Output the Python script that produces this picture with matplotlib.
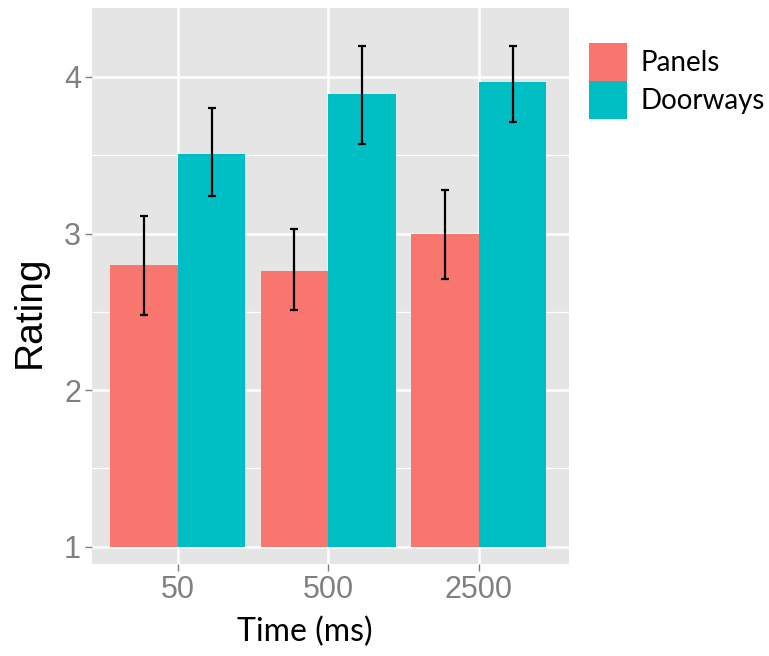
import numpy as np
import matplotlib.pyplot as plt

# Werte
times = ["50", "500", "2500"]
groups = ["Panels", "Doorways"]
panels = [2.80, 2.76, 3.00]
panels_lo = [2.48, 2.51, 2.71]
panels_hi = [3.11, 3.03, 3.28]
doorways = [3.51, 3.89, 3.97]
doorways_lo = [3.24, 3.57, 3.71]
doorways_hi = [3.80, 4.20, 4.20]

colors = ["#F8766D", "#00BFC4"]
base = 1.0

fig = plt.figure(figsize=(7.69, 6.56), dpi=100)
ax = fig.add_axes([92 / 769, 1 - 564 / 656, (569 - 92) / 769, (564 - 8) / 656])
ax.set_facecolor("#E5E5E5")
for s in ax.spines.values():
    s.set_visible(False)

x = np.arange(len(times))
w = 0.45
series = [(panels, panels_lo, panels_hi), (doorways, doorways_lo, doorways_hi)]
for i, (vals, lo, hi) in enumerate(series):
    xs = x + (i - 0.5) * w
    vals = np.array(vals)
    ax.bar(xs, vals - base, w, bottom=base, color=colors[i], label=groups[i],
           zorder=2, linewidth=0)
    yerr = [vals - np.array(lo), np.array(hi) - vals]
    ax.errorbar(xs, vals, yerr=yerr, fmt="none", ecolor="black", elinewidth=1.6,
                capsize=3, capthick=1.6, zorder=3)

ax.set_xlim(-0.57, 2.6)
ax.set_ylim(0.89, 4.44)
ax.set_xticks(x)
ax.set_xticklabels(times)
ax.set_yticks([1, 2, 3, 4])
ax.set_yticks([1.5, 2.5, 3.5], minor=True)
ax.grid(True, which="major", color="white", linewidth=1.8, zorder=0)
ax.grid(True, which="minor", axis="y", color="white", linewidth=0.9, zorder=0)
ax.set_axisbelow(True)
ax.tick_params(axis="both", which="major", labelsize=22, labelcolor="#808080",
               color="#808080", length=5, width=1, pad=3)
ax.tick_params(axis="y", which="minor", length=0)
for lab in ax.get_xticklabels() + ax.get_yticklabels():
    lab.set_family("Liberation Sans")

ax.set_ylabel("Rating", fontsize=28, family="Liberation Sans", color="black")
ax.yaxis.set_label_coords(-0.092, 0.453)
ax.set_xlabel("Time (ms)", fontsize=23, family="Lato", color="black")
ax.xaxis.set_label_coords(0.447, -0.095)

leg = ax.legend(loc="upper left", bbox_to_anchor=(1.042, 0.937), frameon=False,
                prop={"family": "Lato", "size": 20}, handlelength=1.37,
                handleheight=1.72, labelspacing=0, handletextpad=0.5,
                borderaxespad=0, borderpad=0)

fig.savefig("out.png", dpi=100)
